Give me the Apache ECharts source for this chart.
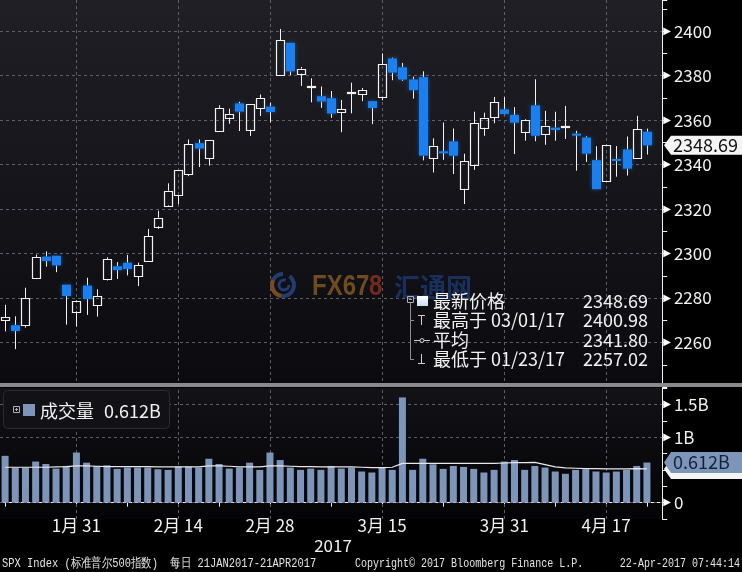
<!DOCTYPE html>
<html><head><meta charset="utf-8">
<script src="https://cdn.jsdelivr.net/npm/echarts@6/dist/echarts.min.js"></script>
<style>html,body{margin:0;padding:0;background:#000;}#c{width:742px;height:572px;}</style>
</head><body><div id="c"></div>
<script>
const dates = ['1月 20','1月 23','1月 24','1月 25','1月 26','1月 27','1月 30','1月 31',
 '2月 1','2月 2','2月 3','2月 6','2月 7','2月 8','2月 9','2月 10','2月 13','2月 14','2月 15','2月 16','2月 17','2月 21','2月 22','2月 23','2月 24','2月 27','2月 28',
 '3月 1','3月 2','3月 3','3月 6','3月 7','3月 8','3月 9','3月 10','3月 13','3月 14','3月 15','3月 16','3月 17','3月 20','3月 21','3月 22','3月 23','3月 24','3月 27','3月 28','3月 29','3月 30','3月 31',
 '4月 3','4月 4','4月 5','4月 6','4月 7','4月 10','4月 11','4月 12','4月 13','4月 17','4月 18','4月 19','4月 20','4月 21'];
const labelDates = ['1月 31','2月 14','2月 28','3月 15','3月 31','4月 17'];
const tickDates = ['1月 20','1月 31','2月 7','2月 14','2月 21','2月 28','3月 8','3月 15','3月 23','3月 31','4月 7','4月 17','4月 21'];

const opens = [2269.96,2267.78,2267.88,2288.88,2298.63,2299.02,2286.01,2274.02,2285.59,2276.69,2288.54,2294.28,2295.87,2289.55,2296.70,2312.27,2321.72,2326.12,2335.58,2349.64,2343.01,2354.91,2361.11,2367.50,2355.73,2365.23,2366.08,2380.13,2394.75,2380.92,2375.23,2370.74,2369.81,2363.49,2372.52,2371.56,2368.55,2370.34,2387.71,2383.71,2378.24,2379.32,2343.00,2345.97,2350.42,2329.11,2339.79,2356.54,2361.31,2364.82,2362.34,2354.76,2366.59,2353.79,2356.59,2357.16,2353.92,2352.15,2341.98,2332.62,2342.53,2346.79,2342.69,2354.74];
const highs = [2276.96,2271.78,2284.63,2299.55,2300.99,2299.02,2286.01,2279.09,2289.14,2283.97,2298.31,2296.18,2299.40,2295.91,2311.08,2319.23,2331.58,2337.58,2351.30,2351.31,2351.16,2366.71,2365.13,2368.26,2367.34,2371.54,2367.79,2400.98,2394.75,2383.89,2378.80,2375.12,2373.09,2369.08,2376.86,2374.42,2368.55,2390.01,2388.10,2385.71,2379.55,2381.93,2351.81,2358.92,2356.22,2344.90,2363.78,2363.36,2370.42,2370.35,2365.87,2360.53,2378.36,2364.16,2363.76,2366.37,2355.22,2352.72,2348.26,2349.14,2348.35,2352.63,2361.92,2356.18];
const lows = [2265.01,2257.02,2266.68,2288.88,2294.08,2291.62,2268.04,2267.21,2272.44,2271.65,2287.88,2288.57,2290.16,2285.38,2296.61,2311.10,2321.42,2322.17,2334.81,2338.87,2339.58,2354.91,2358.34,2355.09,2352.87,2361.87,2358.96,2380.13,2380.17,2375.39,2367.98,2365.51,2361.01,2354.54,2363.04,2368.52,2358.18,2368.94,2377.94,2377.64,2369.66,2341.90,2336.45,2342.13,2335.74,2322.25,2337.63,2352.94,2358.58,2362.60,2344.73,2350.72,2350.52,2348.90,2350.74,2351.50,2337.25,2341.18,2328.95,2332.51,2334.54,2335.05,2342.69,2344.51];
const closes = [2271.31,2265.20,2280.07,2298.37,2296.68,2294.69,2280.90,2278.87,2279.55,2280.85,2297.42,2292.56,2293.08,2294.67,2307.87,2316.10,2328.25,2337.58,2349.25,2347.22,2351.16,2365.38,2362.82,2363.81,2367.34,2369.75,2363.64,2395.96,2381.92,2383.12,2375.31,2368.39,2362.98,2364.87,2372.60,2373.47,2365.45,2385.26,2381.38,2378.25,2373.47,2344.02,2348.45,2345.96,2343.98,2341.59,2358.57,2361.13,2368.06,2362.72,2358.84,2360.16,2352.95,2357.49,2355.54,2357.16,2353.78,2344.93,2328.95,2349.01,2342.19,2338.17,2355.84,2348.69];

// volume in billions
const volumes = [0.714,0.535,0.535,0.627,0.59,0.52,0.56,0.765,0.61,0.56,0.57,0.515,0.535,0.535,0.535,0.51,0.50,0.55,0.55,0.535,0.67,0.59,0.52,0.535,0.61,0.50,0.765,0.65,0.535,0.50,0.52,0.50,0.56,0.52,0.535,0.475,0.46,0.535,0.50,1.606,0.50,0.67,0.585,0.515,0.56,0.545,0.515,0.46,0.50,0.627,0.65,0.50,0.56,0.535,0.475,0.44,0.50,0.51,0.475,0.46,0.475,0.50,0.56,0.612];
const volumeAvg = [0.54,0.54,0.54,0.54,0.54,0.545,0.55,0.56,0.56,0.555,0.55,0.55,0.55,0.55,0.55,0.545,0.545,0.545,0.545,0.545,0.56,0.56,0.555,0.545,0.545,0.545,0.56,0.56,0.555,0.55,0.55,0.545,0.545,0.545,0.545,0.54,0.535,0.535,0.54,0.60,0.60,0.60,0.60,0.60,0.60,0.60,0.60,0.60,0.60,0.605,0.61,0.61,0.615,0.58,0.545,0.53,0.525,0.52,0.52,0.515,0.515,0.515,0.52,0.515];

const priceTicks = [2260,2280,2300,2320,2340,2360,2380,2400];
const volTickLabels = {'0':'0','1':'1B','1.5':'1.5B'};
const volGridValues = [0, 1, 1.5];
const legendLast = {name:'最新价格', value:'2348.69'};
const legendHigh = {name:'最高于 03/01/17', value:'2400.98'};
const legendAvg = {name:'平均', value:'2341.80'};
const legendLow = {name:'最低于 01/23/17', value:'2257.02'};
const volLegend = {name:'成交量', value:'0.612B'};
const yearLabel = '2017';
const footerLeft = 'SPX Index (标准普尔500指数)  每日 21JAN2017-21APR2017';
const footerMid = 'Copyright© 2017 Bloomberg Finance L.P.';
const footerRight = '22-Apr-2017 07:44:14';

const FONT = "'Noto Sans CJK SC','Noto Sans',sans-serif";
const GRIDC = '#5e5e66';
const WHITE = '#f2f2f2';
const BLUE = '#1a80f0';
const VOLC = '#7d95b8';

const chart = echarts.init(document.getElementById('c'), null, {width:742, height:572});
const candleData = dates.map((d, i) => [i, opens[i], closes[i], lows[i], highs[i]]);

function renderCandle(params, api) {
  const i = api.value(0);
  const o = api.value(1), c = api.value(2), l = api.value(3), h = api.value(4);
  const pO = api.coord([i, o]), pC = api.coord([i, c]);
  const pL = api.coord([i, l]), pH = api.coord([i, h]);
  const cx = Math.round(pO[0]) + 0.5;
  const top = Math.min(pO[1], pC[1]), bot = Math.max(pO[1], pC[1]);
  const up = c >= o;
  const half = 4;
  const kids = [];
  if (pH[1] < top) kids.push({type:'line', shape:{x1:cx, y1:pH[1], x2:cx, y2:top}, style:{stroke:WHITE, lineWidth:1}});
  if (pL[1] > bot) kids.push({type:'line', shape:{x1:cx, y1:bot, x2:cx, y2:pL[1]}, style:{stroke:WHITE, lineWidth:1}});
  if (up) {
    const ty = Math.round(top) + 0.5;
    const hh = Math.max(Math.round(bot - top), 1);
    kids.push({type:'rect', shape:{x:cx - half, y:ty, width:half * 2, height:hh}, style:{fill:'rgba(0,0,0,0)', stroke:WHITE, lineWidth:1.2}});
  } else {
    kids.push({type:'rect', shape:{x:cx - half - 0.5, y:top, width:half * 2 + 1, height:Math.max(bot - top, 2)},
      style:{fill:BLUE, shadowBlur:4, shadowColor:'rgba(30,130,240,0.5)'}});
  }
  return {type:'group', children:kids};
}

const xBase = {type:'category', data:dates, max:dates.length, boundaryGap:true};
const rich = {
  t:{fontSize:10, color:'#ffffff', fontFamily:'DejaVu Sans', padding:[0,3,0,1]},
  v:{fontSize:17, color:WHITE, fontFamily:FONT}
};
const gridLineStyle = {color:GRIDC, type:[3,3], width:1};

chart.setOption({
  animation:false,
  backgroundColor:'#000000',
  grid:[
    {left:0, right:79.8, top:0, height:387, show:true, borderWidth:0,
     backgroundColor:new echarts.graphic.LinearGradient(0,0,0,1,[{offset:0,color:'#1f1f25'},{offset:1,color:'#0a0a0f'}])},
    {left:0, right:79.8, top:388, height:131, show:true, borderWidth:0,
     backgroundColor:new echarts.graphic.LinearGradient(0,0,0,1,[{offset:0,color:'#121217'},{offset:1,color:'#040406'}])}
  ],
  xAxis:[
    Object.assign({}, xBase, {gridIndex:0, axisLine:{show:false}, axisTick:{show:false}, axisLabel:{show:false}, splitLine:{show:false}}),
    Object.assign({}, xBase, {gridIndex:1, offset:-5,
      axisLine:{show:true, lineStyle:{color:WHITE, width:1}},
      axisTick:{show:true, alignWithLabel:true, length:4, interval:(i, v) => tickDates.includes(v), lineStyle:{color:WHITE}},
      axisLabel:{interval:(i, v) => labelDates.includes(v), color:WHITE, fontSize:17, fontFamily:FONT, margin:3},
      splitLine:{show:false}})
  ],
  yAxis:[
    {type:'value', gridIndex:0, position:'right', min:2240, max:2414, interval:10,
     axisLine:{show:true, lineStyle:{color:WHITE}},
     axisTick:{show:true, length:5, lineStyle:{color:WHITE}},
     splitLine:{show:false},
     axisLabel:{margin:0, rich:rich, formatter:v => priceTicks.includes(v) ? '{t|▶}{v|' + v + '}' : ''}},
    {type:'value', gridIndex:1, position:'right', min:-0.25, max:1.75, interval:0.25,
     axisLine:{show:true, lineStyle:{color:WHITE}},
     axisTick:{show:true, length:5, lineStyle:{color:WHITE}},
     splitLine:{show:false},
     axisLabel:{margin:0, rich:rich, formatter:v => (volTickLabels[String(v)] !== undefined) ? '{t|▶}{v|' + volTickLabels[String(v)] + '}' : ''}}
  ],
  series:[
    {type:'custom', name:'SPX', xAxisIndex:0, yAxisIndex:0, renderItem:renderCandle,
     encode:{x:0, y:[1,2,3,4]}, data:candleData, clip:true, z:3,
     markLine:{silent:true, z:1, symbol:'none', label:{show:false}, lineStyle:gridLineStyle,
       data:labelDates.map(d => ({xAxis:d})).concat(priceTicks.map(v => ({yAxis:v})))}},
    {type:'bar', name:'成交量', xAxisIndex:1, yAxisIndex:1, data:volumes, barWidth:7,
     itemStyle:{color:VOLC}, z:3,
     markLine:{silent:true, z:1, symbol:'none', label:{show:false}, lineStyle:gridLineStyle,
       data:labelDates.map(d => ({xAxis:d})).concat(volGridValues.map(v => ({yAxis:v})))}},
    {type:'line', xAxisIndex:1, yAxisIndex:1, data:volumeAvg, showSymbol:false, symbol:'none',
     lineStyle:{color:'#e8e8e8', width:1.2}, z:4}
  ]
});

function txt(text, x, y, size, color, align, opts) {
  opts = opts || {};
  return {type:'text', x:x, y:y, z:opts.z || 110, silent:true,
    scaleX:opts.scaleX || 1,
    style:{text:text, font:(opts.weight || 'normal') + ' ' + size + 'px ' + (opts.family || FONT), fill:color,
      align:align, textAlign:align, verticalAlign:'middle', textVerticalAlign:'middle'}};
}
function line(x1, y1, x2, y2, color, z) {
  return {type:'line', silent:true, z:z || 110, shape:{x1:x1, y1:y1, x2:x2, y2:y2}, style:{stroke:color, lineWidth:1}};
}
function tag(x, y, h, w) {
  return [[x, y], [x + 7, y - h / 2], [x + w, y - h / 2], [x + w, y + h / 2], [x + 7, y + h / 2]];
}

const els = [];
// panel separator
els.push({type:'rect', silent:true, z:100, shape:{x:0, y:383, width:742, height:4}, style:{fill:'#8a8a8e'}});

// watermark
els.push({type:'arc', silent:true, z:1, shape:{cx:283, cy:285, r:11, startAngle:-0.3 * Math.PI, endAngle:1.5 * Math.PI}, style:{stroke:'#223c70', lineWidth:4, fill:'none'}});
els.push({type:'arc', silent:true, z:1, shape:{cx:283, cy:285, r:11, startAngle:0.55 * Math.PI, endAngle:1.15 * Math.PI}, style:{stroke:'#7a4a1e', lineWidth:4, fill:'none'}});
els.push({type:'arc', silent:true, z:1, shape:{cx:284, cy:285, r:5, startAngle:0, endAngle:1.6 * Math.PI}, style:{stroke:'#223c70', lineWidth:3, fill:'none'}});
els.push(txt('FX67', 312, 287, 30, '#6e4c20', 'left', {weight:'bold', family:"'Liberation Sans',sans-serif", scaleX:0.8, z:1}));
els.push(txt('8', 369, 287, 30, '#742a1b', 'left', {weight:'bold', family:"'Liberation Sans',sans-serif", scaleX:0.8, z:1}));
els.push(txt('汇通网', 394, 287, 26, '#1a305c', 'left', {weight:'bold', z:1}));

// price legend
const TC = '#8c8c92';
els.push({type:'rect', silent:true, z:110, shape:{x:407.5, y:296.5, width:6, height:6}, style:{fill:'none', stroke:'#b0b0b0', lineWidth:1}});
els.push(line(409, 299.5, 412, 299.5, '#b0b0b0'));
els.push(line(410.5, 303, 410.5, 360, TC));
els.push(line(410.5, 320.5, 414, 320.5, TC));
els.push(line(410.5, 359.5, 414, 359.5, TC));
els.push({type:'rect', silent:true, z:110, shape:{x:417, y:296, width:11, height:10},
  style:{fill:new echarts.graphic.LinearGradient(0,0,0,1,[{offset:0,color:'#ffffff'},{offset:1,color:'#c9dcf2'}])}});
els.push(line(418, 315.5, 425, 315.5, '#d0d0d0'));
els.push(line(421.5, 315.5, 421.5, 325, '#d0d0d0'));
els.push(line(414, 340.5, 430, 340.5, '#d0d0d0'));
els.push({type:'circle', silent:true, z:111, shape:{cx:422, cy:340.5, r:2}, style:{fill:'#1a1a20', stroke:'#d0d0d0', lineWidth:1}});
els.push(line(421.5, 354, 421.5, 363.5, '#d0d0d0'));
els.push(line(418, 363.5, 425, 363.5, '#d0d0d0'));
[[legendLast, 301], [legendHigh, 320.5], [legendAvg, 340], [legendLow, 359.5]].forEach(([r, y]) => {
  els.push(txt(r.name, 433, y, 18, WHITE, 'left'));
  els.push(txt(r.value, 648, y, 18, WHITE, 'right'));
});

// volume legend
els.push({type:'rect', silent:true, z:105, shape:{x:3.5, y:390.5, width:166, height:38, r:4}, style:{fill:'#111116', stroke:'#2a2a30', lineWidth:1}});
els.push({type:'rect', silent:true, z:110, shape:{x:13.5, y:406.5, width:6, height:6}, style:{fill:'none', stroke:'#b0b0b0', lineWidth:1}});
els.push(line(15, 409.5, 18, 409.5, '#b0b0b0'));
els.push(line(16.5, 408, 16.5, 411, '#b0b0b0'));
els.push({type:'rect', silent:true, z:110, shape:{x:23, y:404, width:12, height:12}, style:{fill:VOLC}});
els.push(txt(volLegend.name, 40, 411, 18, WHITE, 'left'));
els.push(txt(volLegend.value, 104, 411, 18, WHITE, 'left'));

// year and footer
els.push(txt(yearLabel, 333, 546, 17, WHITE, 'center'));
els.push(txt(footerLeft, 2, 564, 13, '#e4e4e4', 'left', {family:"'Liberation Mono',monospace", scaleX:0.8}));
els.push(txt(footerMid, 355, 564, 13, '#e4e4e4', 'left', {family:"'Liberation Mono',monospace", scaleX:0.77}));
els.push(txt(footerRight, 740, 564, 13, '#e4e4e4', 'right', {family:"'Liberation Mono',monospace", scaleX:0.77}));

// value tags on right axis, positioned through the axes' scales
const lastIdx = closes.length - 1;
const yP = chart.convertToPixel({yAxisIndex:0}, closes[lastIdx]);
els.push({type:'polygon', silent:true, z:120, shape:{points:tag(664, yP, 19, 90)}, style:{fill:'#f4f4f4'}});
els.push(txt(closes[lastIdx].toFixed(2), 673, yP, 18, '#111111', 'left', {z:121}));
const yA = chart.convertToPixel({yAxisIndex:1}, volumeAvg[lastIdx]);
els.push({type:'polygon', silent:true, z:118, shape:{points:tag(664, yA, 20, 90)}, style:{fill:'#f4f4f4'}});
const yV = chart.convertToPixel({yAxisIndex:1}, volumes[lastIdx]);
els.push({type:'polygon', silent:true, z:120, shape:{points:tag(664, yV, 21, 90)}, style:{fill:VOLC}});
els.push(txt(volumes[lastIdx].toFixed(3) + 'B', 673, yV, 18, '#15223a', 'left', {z:121}));

chart.setOption({graphic:{elements:els}});
</script></body></html>
